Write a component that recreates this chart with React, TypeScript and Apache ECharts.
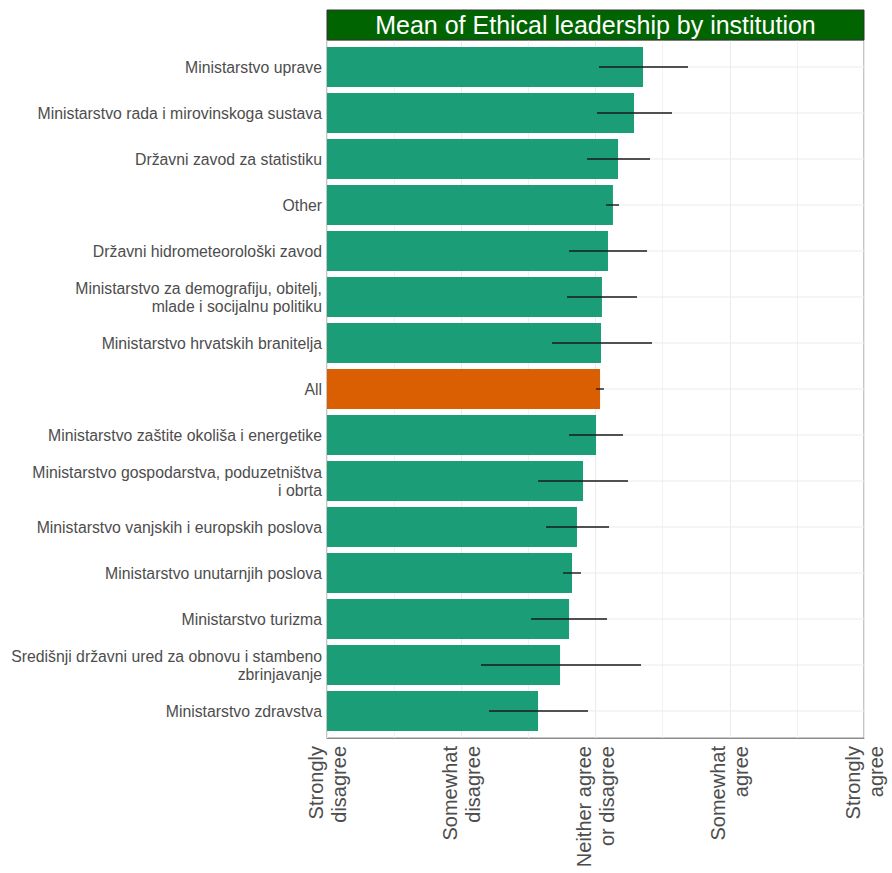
import React, { useEffect, useRef } from "react";
import * as echarts from "echarts";

const categories = [
  "Ministarstvo uprave",
  "Ministarstvo rada i mirovinskoga sustava",
  "Državni zavod za statistiku",
  "Other",
  "Državni hidrometeorološki zavod",
  "Ministarstvo za demografiju, obitelj,\nmlade i socijalnu politiku",
  "Ministarstvo hrvatskih branitelja",
  "All",
  "Ministarstvo zaštite okoliša i energetike",
  "Ministarstvo gospodarstva, poduzetništva\ni obrta",
  "Ministarstvo vanjskih i europskih poslova",
  "Ministarstvo unutarnjih poslova",
  "Ministarstvo turizma",
  "Središnji državni ured za obnovu i stambeno\nzbrinjavanje",
  "Ministarstvo zdravstva",
];

const means = [3.354, 3.287, 3.168, 3.13, 3.093, 3.048, 3.041, 3.034, 3.004, 2.907, 2.862, 2.825, 2.803, 2.736, 2.572];
const lower = [3.026, 3.011, 2.937, 3.078, 2.803, 2.788, 2.676, 3.004, 2.803, 2.572, 2.631, 2.758, 2.52, 2.147, 2.207];
const upper = [3.689, 3.57, 3.406, 3.175, 3.384, 3.309, 3.421, 3.063, 3.205, 3.242, 3.101, 2.892, 3.086, 3.339, 2.944];

const tickLabels = [
  "Strongly\ndisagree",
  "Somewhat\ndisagree",
  "Neither agree\nor disagree",
  "Somewhat\nagree",
  "Strongly\nagree",
];

const highlight = "All";
const titleText = "Mean of Ethical leadership by institution";

export default function App() {
  const ref = useRef<HTMLDivElement>(null);
  useEffect(() => {
    if (!ref.current) return;
    const chart = echarts.init(ref.current, null, { renderer: "svg" });
    const font = "Liberation Sans, Arial, sans-serif";
    const gridLeft = 327;
    const gridRight = 28;
    const plotW = 892 - gridLeft - gridRight;
    chart.setOption({
      animation: false,
      textStyle: { fontFamily: font },
      grid: [
        {
          left: gridLeft,
          right: gridRight,
          top: 40,
          bottom: 135,
          show: true,
          borderColor: "#8c8c8c",
          borderWidth: 1,
        },
        {
          left: gridLeft,
          right: gridRight,
          top: 44,
          bottom: 139,
        },
      ],
      graphic: [
        {
          type: "rect",
          shape: { x: gridLeft, y: 10, width: plotW, height: 30 },
          style: { fill: "#006400", stroke: "#333333", lineWidth: 1 },
          z: 10,
        },
        {
          type: "text",
          x: gridLeft + plotW / 2,
          y: 25,
          style: {
            text: titleText,
            fill: "#ffffff",
            font: `25px ${font}`,
            textAlign: "center",
            textVerticalAlign: "middle",
          },
          z: 11,
        },
      ],
      xAxis: [
        {
          gridIndex: 0,
          type: "value",
          min: 1,
          max: 5,
          interval: 1,
          axisLine: { show: true, lineStyle: { color: "#8c8c8c" } },
          axisTick: { show: false },
          splitLine: { show: true, lineStyle: { color: "#ebebeb", width: 1 } },
          minorTick: { show: false, splitNumber: 2 },
          minorSplitLine: { show: true, lineStyle: { color: "#f2f2f2", width: 1 } },
          axisLabel: {
            rotate: 90,
            fontSize: 20,
            lineHeight: 23,
            color: "#4d4d4d",
            margin: 8,
            formatter: (v: number) => tickLabels[Math.round(v) - 1] ?? "",
          },
        },
        {
          gridIndex: 1,
          type: "value",
          min: 1,
          max: 5,
          interval: 1,
          show: false,
          splitLine: { show: false },
        },
      ],
      yAxis: [
        {
          gridIndex: 0,
          type: "value",
          show: false,
          splitLine: { show: false },
        },
        {
          gridIndex: 1,
          type: "category",
          data: categories,
          inverse: true,
          axisLine: { show: false },
          axisTick: { show: false },
          splitLine: { show: false },
          axisLabel: {
            fontSize: 15.8,
            lineHeight: 18,
            color: "#4d4d4d",
            margin: 5,
            align: "right",
          },
        },
      ],
      series: [
        {
          type: "custom",
          xAxisIndex: 1,
          yAxisIndex: 1,
          z: 1,
          silent: true,
          data: categories.map((_, i) => [i]),
          encode: { y: 0 },
          renderItem: (params: any, api: any) => {
            const i = api.value(0);
            const a = api.coord([1, i]);
            const b = api.coord([5, i]);
            return {
              type: "line",
              shape: { x1: a[0], y1: a[1], x2: b[0], y2: b[1] },
              style: { stroke: "#ebebeb", lineWidth: 1 },
            };
          },
        },
        {
          type: "bar",
          xAxisIndex: 1,
          yAxisIndex: 1,
          z: 2,
          barCategoryGap: "13%",
          data: means.map((m, i) => ({
            value: m,
            itemStyle: {
              color: categories[i] === highlight ? "#d95f02" : "#1b9e77",
            },
          })),
        },
        {
          type: "custom",
          xAxisIndex: 1,
          yAxisIndex: 1,
          z: 3,
          silent: true,
          data: categories.map((_, i) => [i, lower[i], upper[i]]),
          encode: { y: 0, x: [1, 2] },
          renderItem: (params: any, api: any) => {
            const i = api.value(0);
            const a = api.coord([api.value(1), i]);
            const b = api.coord([api.value(2), i]);
            return {
              type: "line",
              shape: { x1: a[0], y1: a[1], x2: b[0], y2: b[1] },
              style: { stroke: "#1a1a1a", lineWidth: 1.4 },
            };
          },
        },
      ],
    });
    return () => chart.dispose();
  }, []);
  return (
    <div
      ref={ref}
      style={{ position: "absolute", left: 0, top: 0, width: 892, height: 873 }}
    />
  );
}
